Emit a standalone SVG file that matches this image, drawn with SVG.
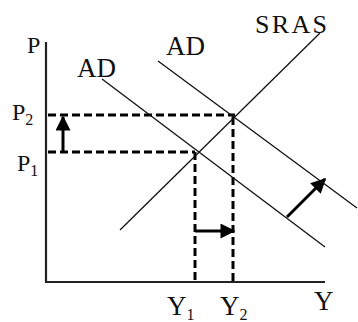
<svg xmlns="http://www.w3.org/2000/svg" width="358" height="322" viewBox="0 0 358 322">
<defs>
<style>
.t{font-family:"Liberation Serif","DejaVu Serif",serif;fill:#111;}
.s{font-size:16px;}
.ln{stroke:#111;stroke-width:1.3;fill:none;}
.ax{stroke:#222;stroke-width:2.2;fill:none;}
.ds{stroke:#000;stroke-width:3;stroke-dasharray:8 4;fill:none;}
.ar{stroke:#000;stroke-width:3;fill:none;}
</style>
<marker id="ah" viewBox="0 0 10 10" refX="9" refY="5" markerWidth="6" markerHeight="5" orient="auto" markerUnits="strokeWidth">
<path d="M0,0 L10,5 L0,10 Z" fill="#000"/>
</marker>
</defs>
<rect width="358" height="322" fill="#fff"/>
<g id="axes">
<path class="ax" d="M46,42 V282 H325"/>
<text class="t" x="27" y="53" font-size="24">P</text>
<text class="t" x="314" y="310" font-size="27">Y</text>
</g>
<g id="connectors">
<path class="ds" d="M48,115 H235"/>
<path class="ds" d="M48,152 H195"/>
<path class="ds" d="M195,152 V282"/>
<path class="ds" d="M233,117 V282"/>
<path class="ar" d="M63,152 V117" marker-end="url(#ah)"/>
<path class="ar" d="M195,231 H234" marker-end="url(#ah)"/>
<path class="ar" d="M287,217 L325,179" marker-end="url(#ah)"/>
</g>
<g id="ad1">
<path class="ln" d="M102,79 L325,247"/>
<text class="t" x="77" y="77" font-size="27">AD</text>
</g>
<g id="ad2">
<path class="ln" d="M158,61 L357,208"/>
<text class="t" x="166" y="55" font-size="27">AD</text>
</g>
<g id="sras">
<path class="ln" d="M120,230 L320,33"/>
<text class="t" x="255" y="33" font-size="26" textLength="72" lengthAdjust="spacing">SRAS</text>
</g>
<g id="labels">
<text class="t" x="12" y="120" font-size="24">P<tspan class="s" dy="5">2</tspan></text>
<text class="t" x="17" y="171" font-size="24">P<tspan class="s" dy="5">1</tspan></text>
<text class="t" x="167" y="315" font-size="27">Y<tspan class="s" dy="5">1</tspan></text>
<text class="t" x="220" y="315" font-size="27">Y<tspan class="s" dy="5">2</tspan></text>
</g>
</svg>
